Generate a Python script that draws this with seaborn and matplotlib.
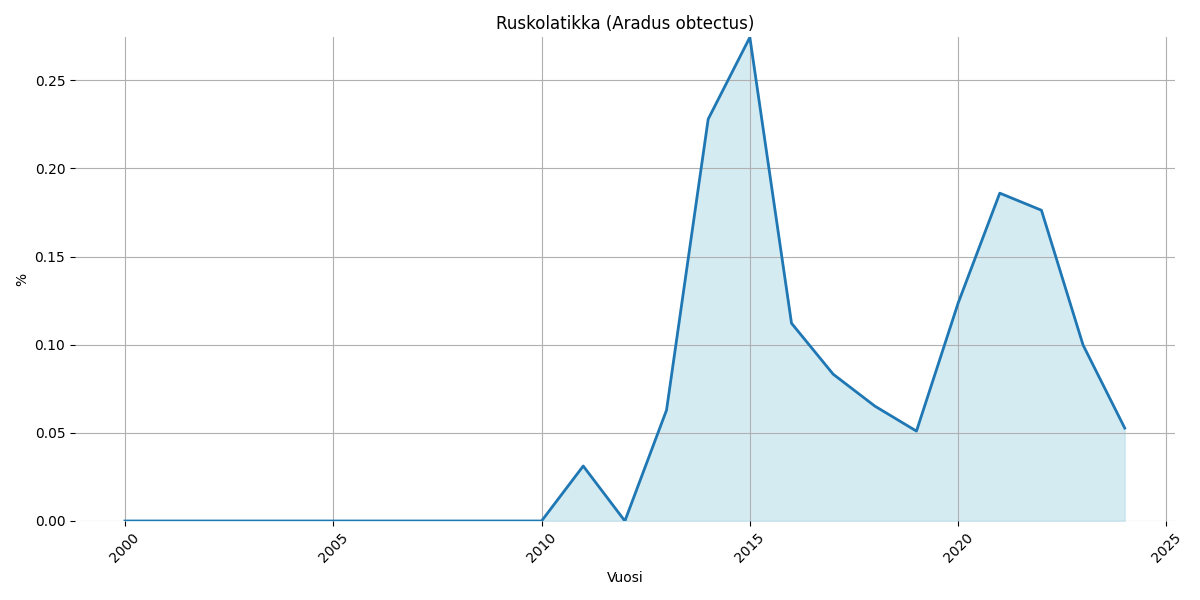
import numpy as np
import pandas as pd
import matplotlib
matplotlib.use("Agg")
import matplotlib.pyplot as plt
import seaborn as sns

years = list(range(2000, 2025))
percent = [0, 0, 0, 0, 0, 0, 0, 0, 0, 0, 0,
           0.0312, 0.0, 0.0629, 0.228, 0.2744, 0.1122, 0.0833, 0.0652,
           0.051, 0.1236, 0.186, 0.1763, 0.0998, 0.0527]

df = pd.DataFrame({"Vuosi": years, "%": percent})

plt.close()
fig, ax = plt.subplots(figsize=(12, 6), dpi=100)

sns.lineplot(data=df, x="Vuosi", y="%", ax=ax, color="tab:blue", linewidth=2)
ax.fill_between(df["Vuosi"], df["%"], color="lightblue", alpha=0.5)

ax.set_title("Ruskolatikka (Aradus obtectus)")
ax.set_xlabel("Vuosi")
ax.set_ylabel("%")
ax.set_ylim(0, df["%"].max())
ax.grid(True)
for s in ax.spines.values():
    s.set_visible(False)
plt.xticks(rotation=45)
plt.tight_layout()
plt.savefig("out.png")
plt.close()
